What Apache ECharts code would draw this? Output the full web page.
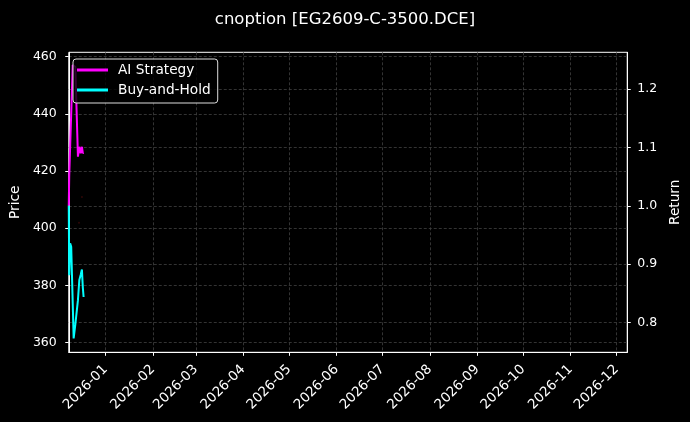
<!DOCTYPE html>
<html>
<head>
<meta charset="utf-8">
<script src="https://cdn.jsdelivr.net/npm/echarts@6/dist/echarts.min.js"></script>
<style>
html,body{margin:0;padding:0;background:#000;}
#c{width:690px;height:422px;}
</style>
</head>
<body>
<div id="c"></div>
<script>
// ---- data ----
const dates = [
  '2025-12-08T00:00:00','2025-12-08T07:12:00','2025-12-08T21:36:00','2025-12-09T14:24:00',
  '2025-12-10T14:24:00','2025-12-11T04:48:00','2025-12-12T07:12:00','2025-12-14T00:00:00',
  '2025-12-14T21:36:00','2025-12-15T19:12:00','2025-12-16T14:24:00','2025-12-17T04:48:00',
  '2025-12-17T16:48:00'
];
const aiStrategy = [1.0, 1.05, 1.05, 1.05, 1.241, 1.241, 1.238, 1.084, 1.101, 1.09, 1.101, 1.09, 1.091];
const buyAndHold = [1.0, 0.881, 0.936, 0.93, 0.833, 0.773, 0.797, 0.8385, 0.873, 0.882, 0.891, 0.86, 0.844];
const priceDates = ['2025-12-14T17:00:00','2025-12-16T14:24:00'];
const priceValues = [401.9, 410.9];
const xTickLabels = ['2026-01','2026-02','2026-03','2026-04','2026-05','2026-06',
                     '2026-07','2026-08','2026-09','2026-10','2026-11','2026-12'];
const priceTicks = [360, 380, 400, 420, 440, 460];
const returnTicks = [0.8, 0.9, 1.0, 1.1, 1.2];
const xMin = '2025-12-08T00:00:00';
const xMax = '2026-12-08T00:00:00';

const ts = s => new Date(s).getTime();
const xTickValues = xTickLabels.map(s => ts(s + '-01T00:00:00'));
const pad2 = n => (n < 10 ? '0' : '') + n;

const chart = echarts.init(document.getElementById('c'), null, {renderer: 'canvas'});
const FONT = 'DejaVu Sans';
const gridLine = {show: true, lineStyle: {color: '#404040', width: 0.8, type: [3, 2]}};

chart.setOption({
  backgroundColor: '#000',
  animation: false,
  textStyle: {fontFamily: FONT},
  title: {
    text: 'cnoption [EG2609-C-3500.DCE]',
    left: 'center', top: 6,
    textStyle: {color: '#fff', fontSize: 16.5, fontWeight: 'normal', fontFamily: FONT}
  },
  legend: {
    orient: 'vertical',
    left: 73, top: 59,
    padding: [4, 7, 6, 4],
    itemGap: 6,
    itemWidth: 31, itemHeight: 3,
    icon: 'rect',
    backgroundColor: 'rgba(0,0,0,0.8)',
    borderColor: '#ddd', borderWidth: 1, borderRadius: 3,
    textStyle: {color: '#fff', fontSize: 13.7, fontFamily: FONT, padding: [0, 0, 0, 5]},
    data: ['AI Strategy', 'Buy-and-Hold']
  },
  grid: {
    left: 66.7, right: 60.7, top: 52.3, bottom: 69.7,
    show: true, borderColor: '#fff', borderWidth: 1, backgroundColor: '#000'
  },
  xAxis: {
    type: 'value',
    min: ts(xMin), max: ts(xMax),
    axisLine: {show: true, onZero: false, lineStyle: {color: '#fff', width: 1}},
    axisTick: {show: true, customValues: xTickValues, length: 3.5, lineStyle: {color: '#fff'}},
    axisLabel: {
      customValues: xTickValues,
      rotate: 45, margin: 15, color: '#fff', fontSize: 13.5, fontFamily: FONT,
      formatter: v => { const d = new Date(v); return d.getFullYear() + '-' + pad2(d.getMonth() + 1); }
    },
    splitLine: gridLine
  },
  yAxis: [
    {
      type: 'value', position: 'left',
      min: 356.6, max: 461.5,
      name: 'Price', nameLocation: 'middle', nameGap: 41,
      nameTextStyle: {color: '#fff', fontSize: 13.7, fontFamily: FONT},
      axisLine: {show: true, lineStyle: {color: '#fff'}},
      axisTick: {show: true, customValues: priceTicks, length: 3.5, lineStyle: {color: '#fff'}},
      axisLabel: {customValues: priceTicks, color: '#fff', fontSize: 12.5, margin: 12, fontFamily: FONT},
      splitLine: gridLine
    },
    {
      type: 'value', position: 'right',
      min: 0.7493, max: 1.2627,
      name: 'Return', nameLocation: 'middle', nameGap: 36,
      nameTextStyle: {color: '#fff', fontSize: 13.7, fontFamily: FONT},
      axisLine: {show: true, lineStyle: {color: '#fff'}},
      axisTick: {show: true, customValues: returnTicks, length: 3.5, lineStyle: {color: '#fff'}},
      axisLabel: {customValues: returnTicks, color: '#fff', fontSize: 12.5, margin: 10, fontFamily: FONT,
        formatter: v => Number(v).toFixed(1)},
      splitLine: gridLine
    }
  ],
  series: [
    {
      name: 'Price', type: 'scatter', yAxisIndex: 0,
      data: priceDates.map((d, i) => [ts(d), priceValues[i]]),
      symbolSize: 2, itemStyle: {color: '#3a0808'}, silent: true
    },
    {
      name: 'AI Strategy', type: 'line', yAxisIndex: 1,
      data: dates.map((d, i) => [ts(d), aiStrategy[i]]),
      showSymbol: false, symbol: 'none',
      lineStyle: {color: '#ff00ff', width: 2}, itemStyle: {color: '#ff00ff'}
    },
    {
      name: 'Buy-and-Hold', type: 'line', yAxisIndex: 1,
      data: dates.map((d, i) => [ts(d), buyAndHold[i]]),
      showSymbol: false, symbol: 'none',
      lineStyle: {color: '#00ffff', width: 2}, itemStyle: {color: '#00ffff'}
    }
  ]
});
</script>
</body>
</html>
